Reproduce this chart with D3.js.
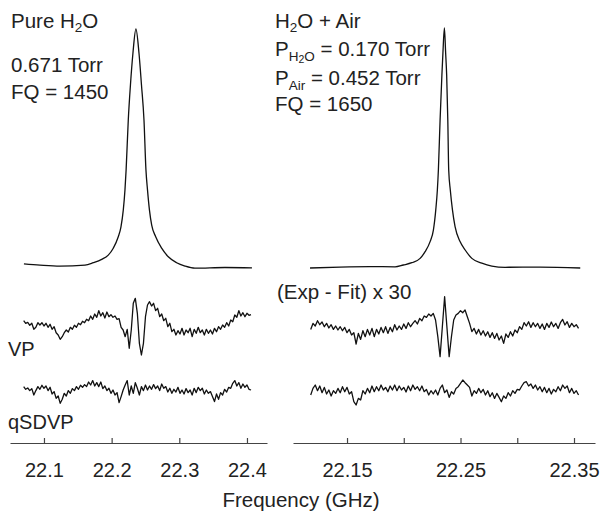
<!DOCTYPE html>
<html lang="en">
<head>
<meta charset="UTF-8">
<title>H2O 22.235 GHz line</title>
<script src="https://d3js.org/d3.v7.min.js"></script>
<style>
  body { margin: 0; background: #fff; }
  svg { display: block; font-family: 'Liberation Sans', Arial, Helvetica, sans-serif; }
  text { fill: #222; }
</style>
</head>
<body>
<svg width="601" height="516"></svg>
<script>
// ---- data ----
// pure water spectrum: frequency (GHz), normalized intensity
var pureFreq = [22.0704, 22.0941, 22.1236, 22.1606, 22.1729, 22.1853, 22.1950, 22.2024, 22.2098, 22.2138, 22.2172,
  22.2197, 22.2214, 22.2246, 22.2278, 22.2315, 22.2359, 22.2404, 22.2441, 22.2478, 22.2507, 22.2530, 22.2559,
  22.2592, 22.2651, 22.2739, 22.2837, 22.2961, 22.3084, 22.3231, 22.3675, 22.4074];
var pureInt = [0.013, 0.008, 0.004, 0.008, 0.018, 0.032, 0.050, 0.079, 0.127, 0.169, 0.239,
  0.324, 0.408, 0.618, 0.765, 0.899, 1.0, 0.899, 0.765, 0.618, 0.408, 0.324, 0.239,
  0.176, 0.127, 0.079, 0.043, 0.018, 0.004, -0.005, -0.002, -0.004];

// water + air spectrum
var airFreq = [22.1174, 22.1438, 22.1703, 22.1923, 22.1996, 22.2071, 22.2144, 22.2188, 22.2232, 22.2261, 22.2282,
  22.2296, 22.2305, 22.2320, 22.2336, 22.2345, 22.2358, 22.2369, 22.2378, 22.2388, 22.2396, 22.2410, 22.2429,
  22.2452, 22.2496, 22.2541, 22.2600, 22.2688, 22.2776, 22.2893, 22.3202, 22.3555];
var airInt = [0.0, 0.004, 0.006, 0.005, 0.0125, 0.022, 0.040, 0.068, 0.110, 0.158, 0.242,
  0.325, 0.408, 0.617, 0.804, 0.896, 1.0, 0.896, 0.804, 0.617, 0.408, 0.325, 0.242,
  0.172, 0.110, 0.075, 0.040, 0.020, 0.008, 0.003, 0.004, 0.0];

// residuals (Exp - Fit) x 30, arbitrary units, on a uniform frequency grid
var pureResStart = 22.070, pureResStep = 0.003;
var pureVP = [2.3, -0.3, 0.7, -2.3, -0.3, -6.3, -4.3, 0.3, -2.0, 0.3, -3.0, -0.3, -4.3, -1.3, -6.3, -3.7, -9.7, -12.0,
  -16.3, -13.7, -9.7, -7.0, -9.0, -4.3, -6.3, -2.3, -4.3, -0.3, -1.7, 1.7, 0.3, 3.7, 2.3, 7.0, 3.7, 9.0, 5.7, 12.3,
  7.0, 10.3, 5.0, 11.0, 6.3, 8.3, 5.7, 7.0, 3.7, 4.3, -4.3, -7.0, -13.7, -6.3, -25.3, -7.0, 19.7, 24.7, 9.7, -20.3,
  -32.0, -20.3, 6.3, 18.0, 21.3, 17.0, 19.7, 12.3, 14.7, 6.3, 9.0, 2.3, 4.7, -3.7, -0.3, -8.7, -6.3, -12.0, -7.7,
  -11.0, -5.3, -12.0, -7.0, -9.7, -5.3, -13.7, -6.3, -10.3, -4.3, -9.7, -7.0, -12.0, -6.3, -10.3, -7.0, -11.0, -5.3,
  -8.7, -3.7, -6.3, -2.0, -4.3, 0.3, -3.0, 3.0, 1.3, 8.0, 5.7, 12.3, 7.0, 10.3, 6.3, 9.7, 7.7, 8.3];
var pureQSD = [1.7, -1.0, 0.3, -2.3, -0.3, -6.7, -2.3, 1.7, -1.0, 3.0, 0.0, 2.3, -2.3, 1.0, -5.7, -3.3, -10.0, -7.7,
  -15.0, -11.0, -5.0, -7.7, -2.3, -5.0, -0.3, -2.3, 1.7, -1.0, 3.0, 1.0, 3.7, 1.7, 6.3, 3.3, 7.7, 2.3, 5.7, 1.7, 6.3,
  -0.3, 2.3, -2.3, 0.0, -5.0, -1.7, -6.7, -4.3, -14.3, -8.3, -1.7, 3.3, 7.7, -6.7, 2.3, -5.0, 5.7, 0.0, -6.7, 1.7,
  -2.3, 3.3, -1.7, 2.3, -1.0, 3.7, -0.3, 2.3, -2.3, 4.3, 0.0, 1.7, -3.7, 0.0, -5.0, -1.0, -3.7, 1.0, -5.0, -1.7,
  -5.7, -0.3, -4.3, -1.7, -6.7, 0.0, -4.3, 1.0, -2.3, 0.0, -5.7, -1.7, -5.0, -3.3, -8.3, -13.3, -5.7, -11.0, -4.3,
  -6.7, -1.0, -3.7, 1.0, 0.0, 5.0, 7.7, 2.3, 5.7, 0.0, 4.3, 1.0, 3.3, -1.0, -1.7];

var airResStart = 22.118, airResStep = 0.002;
var airVP = [-2.7, 3.3, 0.7, 6.0, 2.0, 4.7, 0.0, 3.3, -1.3, 2.0, -2.7, 0.7, -3.3, 0.0, -4.0, -0.7, -6.0, -2.7, -8.3,
  -6.0, -17.3, -6.7, -12.7, -4.0, -10.0, -2.7, -8.3, -1.7, -10.0, -2.7, -7.3, -0.7, -6.0, 0.0, -6.7, -0.7, -5.0, 2.0,
  -3.3, 0.7, -2.7, 2.7, -1.7, 4.0, 0.0, 3.3, 6.0, 2.7, 8.3, 6.0, 10.7, 9.3, 12.7, 10.7, 13.3, 6.7, -10.0, -30.0, 0.0,
  30.0, 0.0, -30.0, -10.0, 6.7, 11.7, 13.3, 16.0, 14.0, 16.7, 10.0, 3.3, -5.0, -1.7, -7.3, -2.7, -8.3, -4.0, -9.3,
  -5.0, -10.7, -6.0, -11.7, -6.7, -13.3, -9.3, -16.7, -7.3, -10.7, -5.0, -9.3, -3.3, -6.0, 0.0, -2.7, 4.0, 0.7, 5.0,
  -0.7, 4.0, 0.0, 3.3, -1.7, 2.7, -2.7, 3.3, -0.7, 4.7, 0.0, 3.3, -1.7, 4.0, 7.3, 1.7, 5.0, -0.7, 3.3, 0.0, 2.0, -1.7];
var airQSD = [-3.3, 3.3, 6.7, 1.0, 5.7, -1.0, 4.3, -2.3, 1.7, -4.3, 1.0, -1.7, 3.3, -1.0, 5.0, 0.0, 4.3, -2.3, 0.0,
  -10.0, -13.3, -6.7, -8.3, 1.0, -2.3, 3.3, -1.0, 5.7, 0.0, 5.0, 1.0, 6.7, 1.7, 4.3, 0.0, 5.7, 1.7, 6.7, 1.0, 5.7,
  1.7, 4.3, -0.3, 5.7, 1.0, 6.7, 2.3, 5.0, 1.0, 5.7, 0.0, 2.3, -3.3, 1.0, -2.3, 1.7, -3.3, 3.3, 6.7, -1.0, 1.7, -5.7,
  0.0, -2.3, 3.3, 5.0, 8.3, 11.7, 9.0, 6.7, 4.3, -4.3, 1.0, -1.7, 3.3, -1.0, 2.3, -3.3, 1.0, -5.0, -1.0, -6.7, -1.7,
  -5.7, -10.0, -4.3, -6.7, -1.0, -4.3, 1.0, -1.7, 2.3, 1.7, 5.7, 9.0, 10.0, 5.7, 7.7, 3.3, 6.7, 1.7, 5.0, 0.0, 4.3,
  -1.0, 3.3, -2.3, 2.3, 0.0, 5.0, 1.0, 6.7, 3.3, 5.7, -1.0, 3.3, -1.7, 1.0, -3.3];

var pureTicks = [22.1, 22.2, 22.3, 22.4];
var airTicks = [22.15, 22.2, 22.25, 22.3, 22.35];
var airTickLabels = [22.15, 22.25, 22.35];

// ---- drawing ----
var svg = d3.select('svg');
var axisY = 443;

var xL = d3.scaleLinear().domain([22.0498, 22.4296]).range([10, 267]);
var xR = d3.scaleLinear().domain([22.1024, 22.3685]).range([293, 595]);
var ySpecL = d3.scaleLinear().domain([0, 1]).range([267, 29]);
var ySpecR = d3.scaleLinear().domain([0, 1]).range([268, 28]);
function resScale(base) {
  return d3.scaleLinear().domain([0, 10]).range([base, base - 10]);
}

function zipSpec(f, v) { return f.map((d, i) => [d, v[i]]); }
function zipRes(start, step, v) { return v.map((d, i) => [start + i * step, d]); }

function trace(data, x, y, curve) {
  svg.append('path')
    .datum(data)
    .attr('fill', 'none')
    .attr('stroke', '#111')
    .attr('stroke-width', 1.3)
    .attr('stroke-linejoin', 'round')
    .attr('d', d3.line().x(d => x(d[0])).y(d => y(d[1])).curve(curve || d3.curveLinear));
}

trace(zipSpec(pureFreq, pureInt), xL, ySpecL, d3.curveMonotoneX);
trace(zipSpec(airFreq, airInt), xR, ySpecR, d3.curveMonotoneX);
trace(zipRes(pureResStart, pureResStep, pureVP), xL, resScale(323));
trace(zipRes(pureResStart, pureResStep, pureQSD), xL, resScale(388.3));
trace(zipRes(airResStart, airResStep, airVP), xR, resScale(326.7));
trace(zipRes(airResStart, airResStep, airQSD), xR, resScale(391.7));

function styleAxis(g) {
  g.select('.domain').attr('stroke', '#444').attr('stroke-width', 1.2);
  g.selectAll('.tick line').attr('stroke', '#444').attr('stroke-width', 1.2);
  g.selectAll('.tick text').attr('font-size', 20).attr('fill', '#222')
    .attr('font-family', "'Liberation Sans', Arial, sans-serif");
}

svg.append('g')
  .attr('transform', 'translate(0,' + axisY + ')')
  .call(d3.axisBottom(xL).tickValues(pureTicks).tickSize(-5).tickSizeOuter(0).tickPadding(20)
    .tickFormat(d3.format('.1f')))
  .call(styleAxis);

svg.append('g')
  .attr('transform', 'translate(0,' + axisY + ')')
  .call(d3.axisBottom(xR).tickValues(airTicks).tickSize(-5).tickSizeOuter(0).tickPadding(20)
    .tickFormat(d => airTickLabels.indexOf(d) >= 0 ? d3.format('.2f')(d) : ''))
  .call(styleAxis);

// ---- labels ----
function label(x, y, size, parts) {
  var t = svg.append('text').attr('x', x).attr('y', y).attr('font-size', size);
  parts.forEach(p => {
    var s = t.append('tspan').text(p[0]);
    if (p[1]) s.attr('font-size', p[1]);
    if (p[2]) s.attr('dy', p[2]);
  });
  return t;
}

label(11, 28, 20.5, [['Pure H'], ['2', 13.5, 4], ['O', null, -4]]);
label(11, 72, 20.5, [['0.671 Torr']]);
label(11, 99, 20.5, [['FQ = 1450']]);

label(275, 28, 20.5, [['H'], ['2', 13.5, 4], ['O + Air', null, -4]]);
label(275, 56, 20.5, [['P'], ['H', 13.5, 5], ['2', 10.5, 2], ['O', 13.5, -2], [' = 0.170 Torr', null, -5]]);
label(275, 85, 20.5, [['P'], ['Air', 13.5, 5], [' = 0.452 Torr', null, -5]]);
label(275, 111, 20.5, [['FQ = 1650']]);

label(277, 299, 20.5, [['(Exp - Fit) x 30']]);
label(8, 356, 20, [['VP']]);
label(8, 429, 20, [['qSDVP']]);

svg.append('text')
  .attr('x', 301).attr('y', 507)
  .attr('text-anchor', 'middle')
  .attr('font-size', 20.5)
  .text('Frequency (GHz)');
</script>
</body>
</html>
